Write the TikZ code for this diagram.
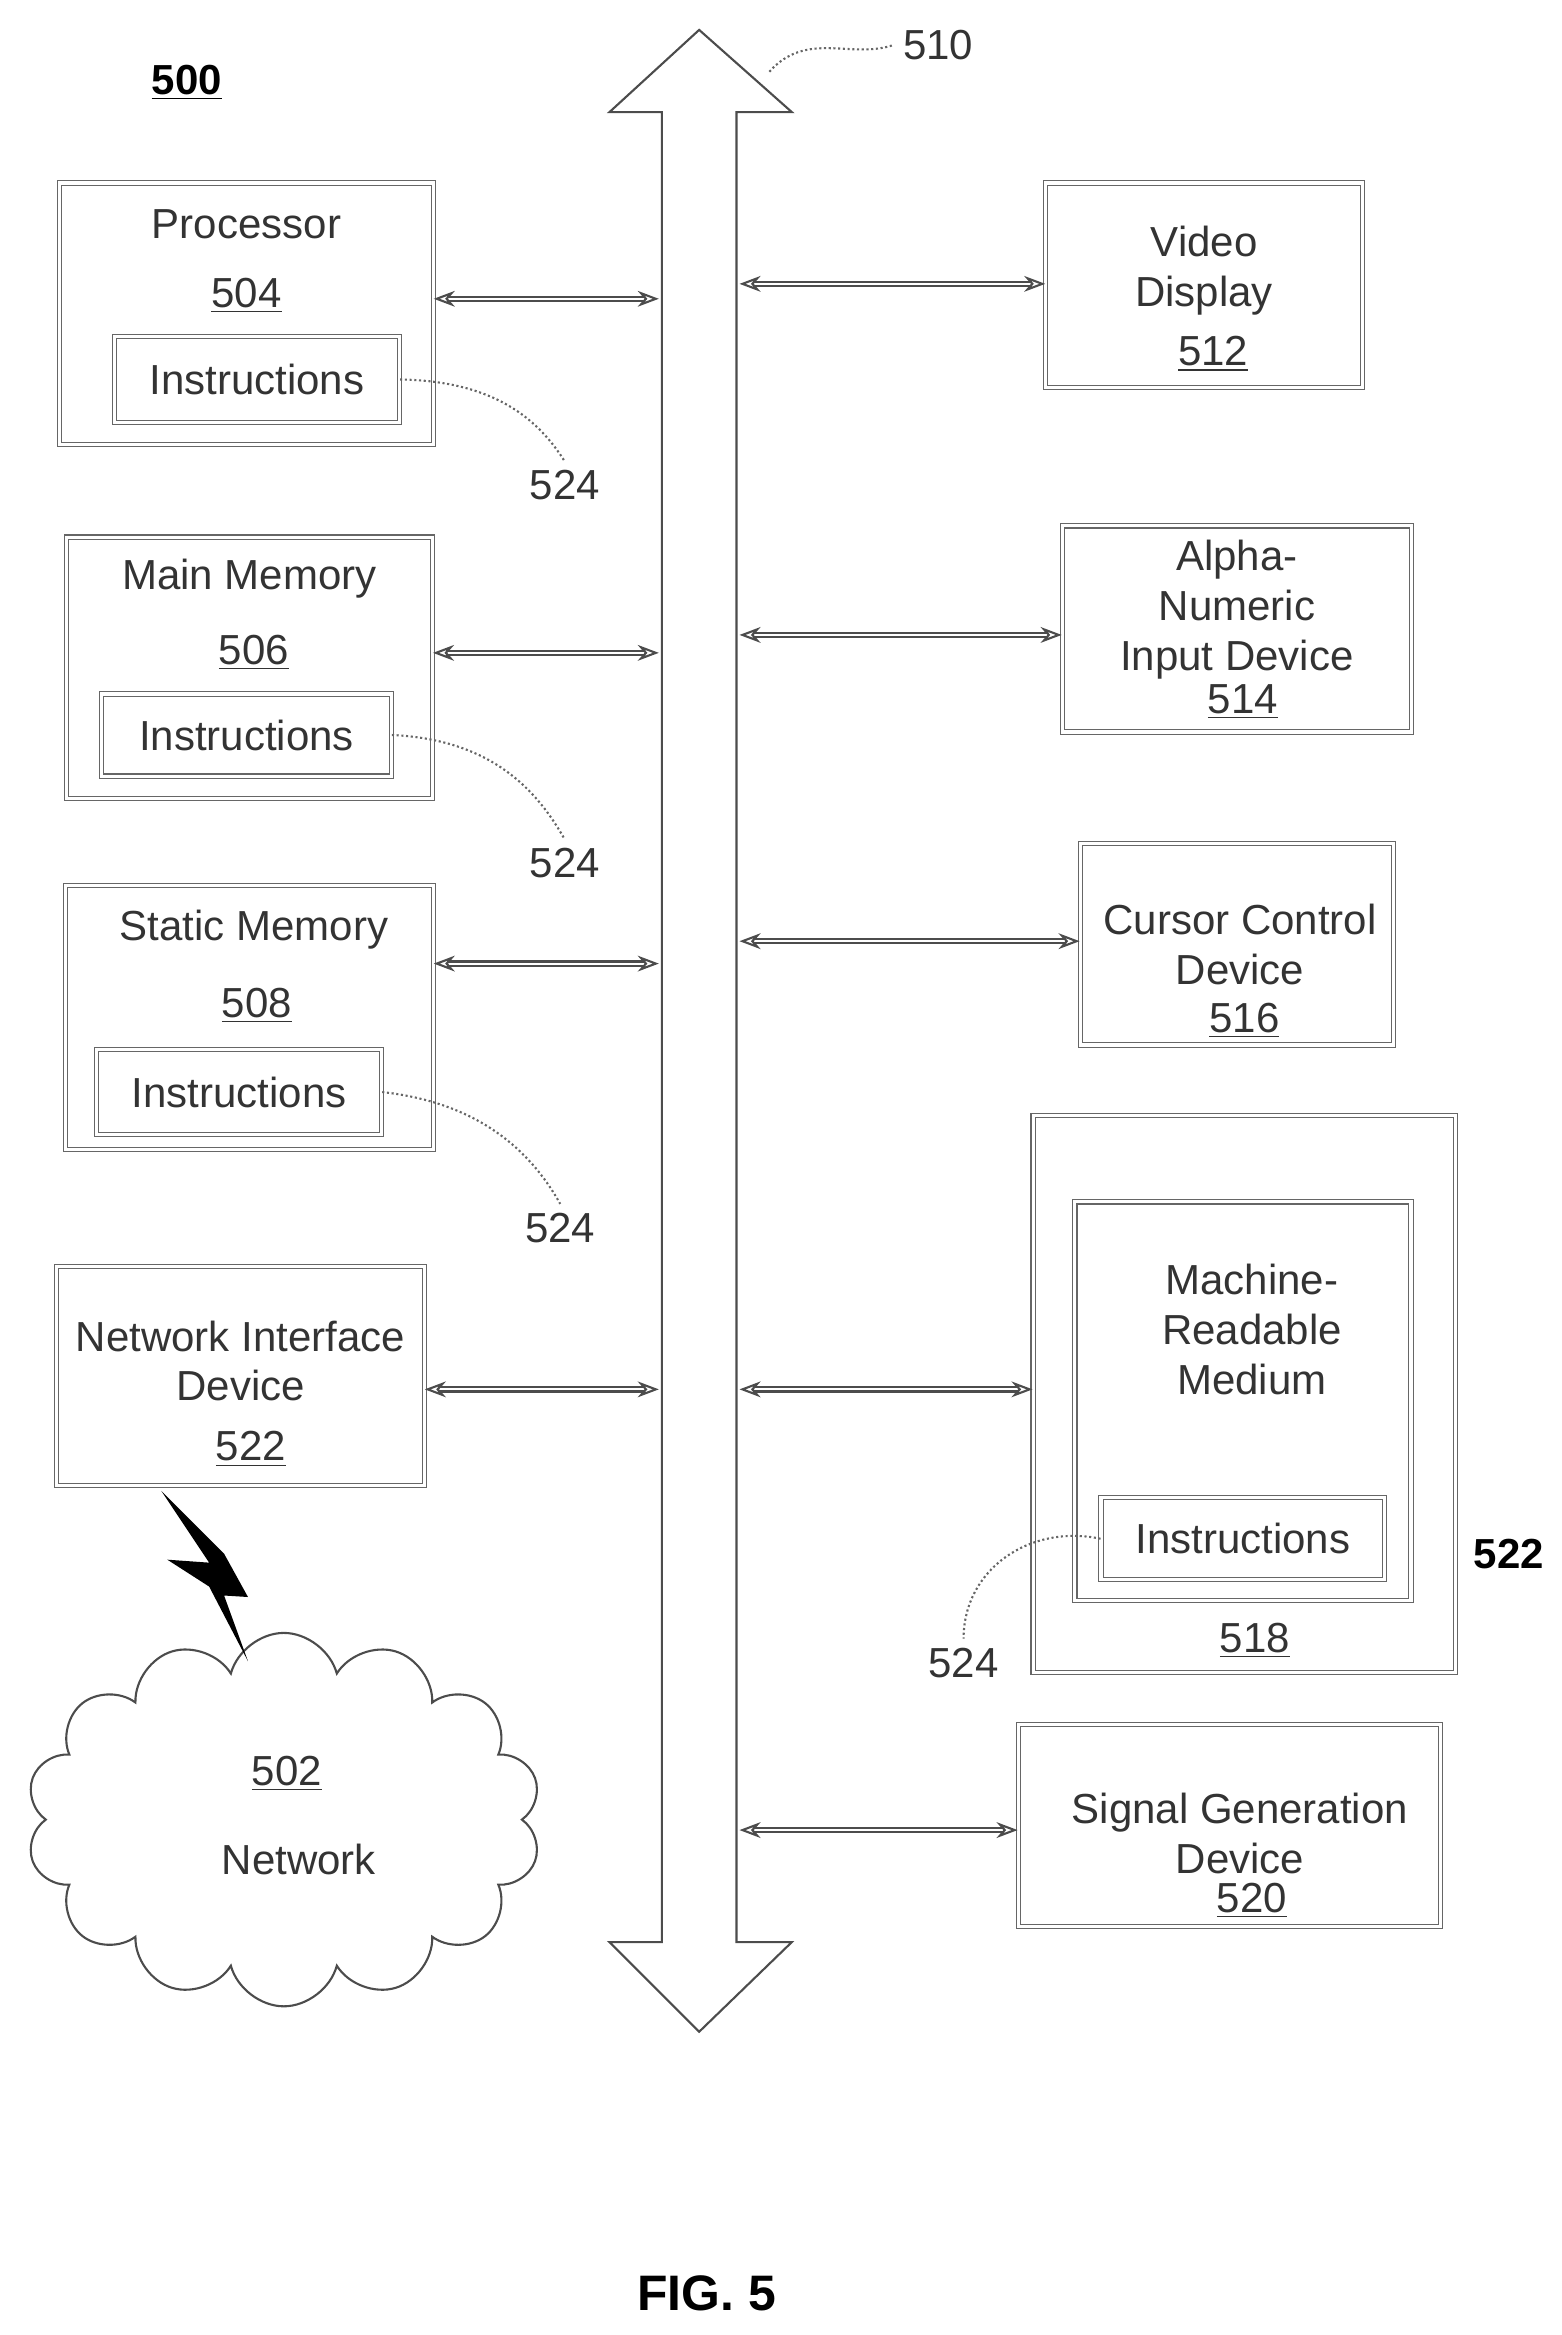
\documentclass[tikz,border=0pt]{standalone}
\usepackage{fontspec}
\setmainfont{Liberation Sans}
\usetikzlibrary{arrows.meta,shapes.symbols,calc}
\tikzset{
    box/.style={draw=black!60,double=white,double distance=1.2pt,thin,inner sep=0pt},
    label text/.style={font=\fontsize{16}{19}\selectfont,text=black!80},
    refnum/.style={font=\fontsize{16}{19}\selectfont,text=black!80},
    link/.style={{Stealth[open]}-{Stealth[open]},black!70,thick,double=white,double distance=0.8pt},
    lead/.style={black!60,densely dotted,thick},
}
\begin{document}
\begin{tikzpicture}[x=0.02cm,y=-0.02cm]
    \useasboundingbox (0,0) rectangle (1045,1563);
    % bus
    \draw[black!70,thick] (443,75) -- (408,75) -- (468,20) -- (530,75) -- (493,75)
        -- (493,1300) -- (530,1300) -- (468,1360) -- (408,1300) -- (443,1300) -- cycle;
    \node[label text] (busnum) at (628,30) {510};
    \draw[lead] (515,48) .. controls (540,20) and (570,40) .. (busnum.west);
    \node[font=\bfseries\fontsize{16}{19}\selectfont] (sysnum) at (125,55) {\underline{500}};

    % left column
    \node[box,minimum width=5cm,minimum height=3.5cm] (proc) at (165,210) {};
    \node[label text] at (165,150) {Processor};
    \node[refnum] at (165,198) {\underline{504}};
    \node[box,minimum width=3.82cm,minimum height=1.16cm,label text] (proci) at (172,254) {Instructions};

    \node[box,minimum width=4.9cm,minimum height=3.5cm] (mainm) at (167,447) {};
    \node[label text] at (167,387) {Main Memory};
    \node[refnum] at (170,437) {\underline{506}};
    \node[box,minimum width=3.88cm,minimum height=1.1cm,label text] (mainmi) at (165,492) {Instructions};

    \node[box,minimum width=4.92cm,minimum height=3.54cm] (statm) at (167,681) {};
    \node[label text] at (170,622) {Static Memory};
    \node[refnum] at (172,673) {\underline{508}};
    \node[box,minimum width=3.82cm,minimum height=1.14cm,label text] (statmi) at (160,731) {Instructions};

    \node[box,minimum width=4.92cm,minimum height=2.94cm] (nic) at (161,921) {};
    \node[label text,align=center] at (161,911) {Network Interface\\Device};
    \node[refnum] at (168,970) {\underline{522}};

    \node[refnum] (n524a) at (378,325) {524};
    \node[refnum] (n524b) at (378,578) {524};
    \node[refnum] (n524c) at (375,822) {524};
    \draw[lead] (proci.east) .. controls (330,255) and (360,280) .. (n524a.north);
    \draw[lead] (mainmi.east) .. controls (330,495) and (360,530) .. (n524b.north);
    \draw[lead] (statmi.east) .. controls (320,738) and (355,770) .. (n524c.north);

    % network
    \node[cloud,cloud puffs=14,draw=black!70,thick,minimum width=6.9cm,minimum height=5cm] (net) at (190,1218) {};
    \node[label text] at (192,1187) {\underline{502}};
    \node[label text] at (200,1245) {Network};
    \fill[black] (108,998) -- (150,1040) -- (166,1069) -- (150,1068) -- (166,1112)
        -- (140,1062) -- (112,1044) -- (140,1046) -- cycle;

    % right column
    \node[box,minimum width=4.24cm,minimum height=2.74cm] (video) at (806,191) {};
    \node[label text,align=center] at (806,181) {Video\\Display};
    \node[refnum] at (812,237) {\underline{512}};

    \node[box,minimum width=4.68cm,minimum height=2.76cm] (alpha) at (828,421) {};
    \node[label text,align=center] at (828,408) {Alpha-\\Numeric\\Input Device};
    \node[refnum] at (832,470) {\underline{514}};

    \node[box,minimum width=4.2cm,minimum height=2.7cm] (cursor) at (828,632) {};
    \node[label text,align=center] at (830,632) {Cursor Control\\Device};
    \node[refnum] at (833,683) {\underline{516}};

    \node[box,minimum width=5.66cm,minimum height=7.46cm] (drive) at (833,933) {};
    \node[box,minimum width=4.5cm,minimum height=5.34cm] (medium) at (832,938) {};
    \node[label text,align=center] at (838,890) {Machine-\\Readable\\Medium};
    \node[box,minimum width=3.8cm,minimum height=1.1cm,label text] (mediumi) at (832,1030) {Instructions};
    \node[refnum] at (840,1098) {\underline{518}};
    \node[font=\bfseries\fontsize{16}{19}\selectfont] at (1010,1040) {522};
    \node[refnum] (n524d) at (645,1113) {524};
    \draw[lead] (mediumi.west) .. controls (690,1020) and (645,1050) .. (n524d.north);

    \node[box,minimum width=5.66cm,minimum height=2.7cm] (signal) at (823,1222) {};
    \node[label text,align=center] at (830,1227) {Signal Generation\\Device};
    \node[refnum] at (838,1272) {\underline{520}};

    % links to bus
    \foreach \src/\yy in {proc/200,mainm/437,statm/645,nic/930}{
        \coordinate (bl\src) at (441,\yy);
        \draw[link] (\src.east |- bl\src) -- (bl\src);
    }
    \foreach \dst/\yy in {video/190,alpha/425,cursor/630,drive/930,signal/1225}{
        \coordinate (br\dst) at (495,\yy);
        \draw[link] (br\dst) -- (\dst.west |- br\dst);
    }

    \node[font=\bfseries\fontsize{19}{22}\selectfont] (fig) at (473,1535) {FIG. 5};
\end{tikzpicture}
\end{document}
